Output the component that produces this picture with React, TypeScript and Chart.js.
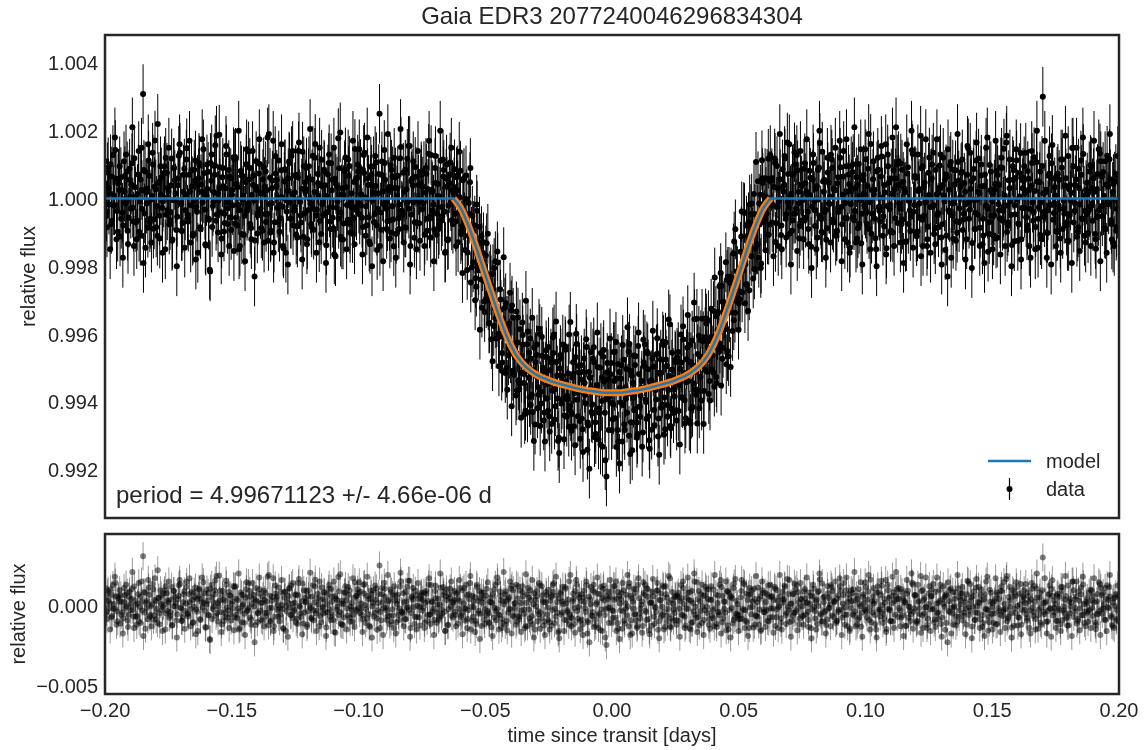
import React, { useEffect, useRef } from 'react';
import { Chart, registerables } from 'chart.js';

Chart.register(...registerables);

// ---------- text & style ----------
const FONT = "'Liberation Sans', Arial, Helvetica, sans-serif";
const TEXT_COLOR = '#262626';
const MODEL_COLOR = '#1f77b4';
const BAND_COLOR = '#ff7f0e';

const TITLE = 'Gaia EDR3 2077240046296834304';
const PERIOD_LABEL = 'period = 4.99671123 +/- 4.66e-06 d';
const X_LABEL = 'time since transit [days]';
const Y_LABEL = 'relative flux';
const LEGEND_MODEL = 'model';
const LEGEND_DATA = 'data';

// ---------- axes ----------
const T_START = -0.2;
const T_END = 0.2;
const xTicks = [-0.2, -0.15, -0.1, -0.05, 0, 0.05, 0.1, 0.15, 0.2];
const yTicksTop = [0.992, 0.994, 0.996, 0.998, 1.0, 1.002, 1.004];
const yTicksResid = [-0.005, 0];
const yRangeTop = [0.990575, 1.004823];
const yRangeResid = [-0.00553, 0.00447];

// ---------- data (flux offsets in units of 1e-5) ----------
const FLUX_UNIT = 1e-5;
const fluxErr = 0.00088;

// first set of folded observations
const fluxOffsetA = [
  45,-38,92,14,-75,128,-20,58,-98,25,63,-42,110,-14,80,-57,6,104,-68,33,
  -120,71,-9,150,308,-44,18,-86,67,-3,135,-61,27,-110,49,95,-27,3,-150,76,
  21,-64,118,-5,54,-93,39,160,-17,-72,88,12,-48,70,-130,36,-8,112,-39,60,
  -85,20,145,-33,7,79,-210,52,-22,96,-66,15,188,-41,63,-97,30,-12,84,-55,
  11,122,-74,43,-19,-140,68,8,-51,101,-28,57,-87,140,-6,35,-103,74,-31,18,
  92,-46,25,-125,61,-14,170,-70,37,4,-98,83,-24,50,-160,22,109,-59,13,-36,
  66,-82,140,-10,29,-113,47,91,-35,-2,-76,126,19,-50,72,-129,38,-17,85,-44,
  7,105,-68,24,-90,58,-27,178,-41,12,-121,80,33,-63,96,-8,-102,49,-25,61,
  -15,87,-57,128,3,-79,40,-134,70,16,-46,107,-30,250,-92,21,143,-12,-67,34,
  98,-23,-141,62,9,-58,119,-36,76,-85,27,-9,155,-47,38,-116,64,-2,-73,45,
  -31,81,17,-95,132,-54,26,-18,90,-107,43,6,-66,115,-39,58,-123,71,-8,24,
  33,-68,68,-40,82,-82,-35,-152,-2,-110,48,-113,-188,-80,-260,-130,-83,-239,-185,-304,
  -168,-280,-369,-224,-271,-376,-185,-350,-399,-268,-508,-355,-322,-499,-375,-443,-330,-508,-441,-581,
  -425,-563,-465,-366,-544,-626,-430,-529,-413,-578,-506,-667,-462,-557,-400,-605,-499,-631,-448,-547,
  -642,-472,-568,-401,-613,-522,-706,-462,-592,-540,-436,-644,-516,-612,-685,-483,-574,-399,-642,-513,
  -534,-681,-472,-605,-741,-512,-560,-634,-439,-660,-550,-711,-499,-597,-467,-632,-820,-533,-585,-485,
  -651,-538,-423,-683,-512,-602,-717,-476,-557,-632,-452,-754,-523,-588,-491,-661,-435,-614,-558,-690,
  -495,-600,-457,-713,-539,-471,-624,-565,-412,-649,-518,-608,-432,-681,-494,-565,-371,-620,-529,-584,
  -625,-478,-551,-401,-589,-515,-648,-440,-482,-664,-419,-546,-512,-355,-568,-466,-596,-421,-505,-369,
  -421,-538,-325,-463,-555,-347,-388,-452,-220,-473,-331,-386,-240,-465,-249,-302,-162,-337,-215,-294,
  -274,-112,-207,-43,-253,-110,-271,-46,-115,13,-146,-48,-175,11,113,-70,60,-44,117,-77,
  52,-19,118,-73,30,-2,-108,86,41,-60,165,-27,9,-95,73,-44,128,-14,-81,37,
  -66,104,15,-39,82,-142,56,-8,29,-115,91,-50,138,20,-33,-88,47,6,115,-71,
  24,-97,63,170,-25,11,-58,95,-130,42,-16,78,-64,31,-118,102,-5,-45,69,145,
  -40,88,-11,-104,57,26,-150,120,-36,65,3,-82,160,-22,47,-99,14,83,-58,39,
  110,-30,-75,49,18,-126,92,-7,-54,131,-19,61,-97,28,185,-63,35,-12,-140,76,
  -25,60,135,-88,12,-43,97,-115,40,-8,71,-230,26,108,-50,-14,83,-101,53,5,
  79,-62,20,-120,148,-33,51,-4,-90,112,-47,15,68,-135,37,-21,180,-70,24,-9,
  -109,43,82,-17,-58,120,-36,9,165,-81,30,-48,95,-126,61,-3,-77,134,-28,52,
  16,-94,58,-31,140,-66,22,107,-145,48,-12,300,-55,26,-102,73,-18,158,-43,9,
  64,-20,-118,91,-6,38,-80,125,-49,17,150,-37,56,-97,30,112,-61,8,-130,47,
  -35,99,-14,60,-105,27,-52,133,-22,78,-88,41,-10,116,-64,19,-140,72,-30,55,
];

const residOffsetA = [
  45,-38,92,14,-75,128,-20,58,-98,25,63,-42,110,-14,80,-57,6,104,-68,33,
  -120,71,-9,150,308,-44,18,-86,67,-3,135,-61,27,-110,49,95,-27,3,-150,76,
  21,-64,118,-5,54,-93,39,160,-17,-72,88,12,-48,70,-130,36,-8,112,-39,60,
  -85,20,145,-33,7,79,-210,52,-22,96,-66,15,188,-41,63,-97,30,-12,84,-55,
  11,122,-74,43,-19,-140,68,8,-51,101,-28,57,-87,140,-6,35,-103,74,-31,18,
  92,-46,25,-125,61,-14,170,-70,37,4,-98,83,-24,50,-160,22,109,-59,13,-36,
  66,-82,140,-10,29,-113,47,91,-35,-2,-76,126,19,-50,72,-129,38,-17,85,-44,
  7,105,-68,24,-90,58,-27,178,-41,12,-121,80,33,-63,96,-8,-102,49,-25,61,
  -15,87,-57,128,3,-79,40,-134,70,16,-46,107,-30,250,-92,21,143,-12,-67,34,
  98,-23,-141,62,9,-58,119,-36,76,-85,27,-9,155,-47,38,-116,64,-2,-73,45,
  -31,81,17,-95,132,-54,26,-18,90,-107,43,6,-66,115,-39,58,-123,71,-8,24,
  35,-60,82,-20,110,-45,12,-95,66,-30,140,-8,-70,51,-115,28,90,-52,17,-88,
  62,-35,-110,48,15,-75,130,-22,-58,87,-140,25,70,-96,40,-18,105,-63,12,-120,
  44,-88,16,120,-52,-130,70,-25,95,-67,8,-150,58,-34,125,-78,30,-100,85,-12,
  -105,66,-28,140,-70,22,-160,85,-44,10,115,-92,37,-58,-130,74,-16,160,-82,48,
  28,-118,92,-40,-175,55,8,-66,130,-90,20,-140,72,-25,105,-60,-247,40,-12,88,
  -78,35,150,-110,60,-30,-145,95,14,-62,118,-185,45,-20,76,-95,130,-50,5,-128,
  66,-40,102,-155,18,84,-70,-12,140,-98,32,-60,115,-135,50,-22,170,-80,9,-47,
  -90,55,-20,128,-62,10,-125,80,35,-150,92,-38,-8,145,-72,26,-110,60,-30,100,
  40,-85,120,-28,-130,68,15,-60,160,-105,24,-45,88,-150,52,-16,110,-78,30,-64,
  -58,90,-20,130,-95,35,-140,72,-10,105,-66,20,-118,58,150,-42,80,-30,125,-75,
  52,-19,118,-73,30,-2,-108,86,41,-60,165,-27,9,-95,73,-44,128,-14,-81,37,
  -66,104,15,-39,82,-142,56,-8,29,-115,91,-50,138,20,-33,-88,47,6,115,-71,
  24,-97,63,170,-25,11,-58,95,-130,42,-16,78,-64,31,-118,102,-5,-45,69,145,
  -40,88,-11,-104,57,26,-150,120,-36,65,3,-82,160,-22,47,-99,14,83,-58,39,
  110,-30,-75,49,18,-126,92,-7,-54,131,-19,61,-97,28,185,-63,35,-12,-140,76,
  -25,60,135,-88,12,-43,97,-115,40,-8,71,-230,26,108,-50,-14,83,-101,53,5,
  79,-62,20,-120,148,-33,51,-4,-90,112,-47,15,68,-135,37,-21,180,-70,24,-9,
  -109,43,82,-17,-58,120,-36,9,165,-81,30,-48,95,-126,61,-3,-77,134,-28,52,
  16,-94,58,-31,140,-66,22,107,-145,48,-12,300,-55,26,-102,73,-18,158,-43,9,
  64,-20,-118,91,-6,38,-80,125,-49,17,150,-37,56,-97,30,112,-61,8,-130,47,
  -35,99,-14,60,-105,27,-52,133,-22,78,-88,41,-10,116,-64,19,-140,72,-30,55,
];

// second set of folded observations (half a cadence later)
const fluxOffsetB = [
  -52,77,-18,101,-66,9,143,-37,58,-112,24,-80,66,-5,-134,88,41,-27,119,-70,
  13,-98,56,-31,84,-145,29,112,-60,7,-89,171,-22,46,-118,62,-9,95,-48,30,
  -77,38,-121,90,15,-54,126,-13,-96,70,-35,148,-68,21,83,-104,52,-25,-160,97,
  42,-11,75,-139,28,-63,105,-84,19,157,-47,-6,92,-118,36,-72,130,-29,64,-93,
  -20,116,-57,33,-150,81,-3,-108,49,-36,139,-75,10,68,-124,25,-45,102,-88,57,
  34,-69,180,-16,-95,53,-130,74,-27,112,-58,4,-147,86,-38,60,-12,125,-79,18,
  -106,63,-2,-71,138,-44,27,-120,95,-15,56,-92,161,-33,8,-66,114,-50,39,-138,
  71,-26,104,-57,-165,43,-8,89,-113,30,-74,121,-19,67,-101,15,-58,146,-35,80,
  -47,12,-84,135,-23,60,-127,94,-6,-69,37,-152,72,-41,109,-16,55,-90,26,-118,
  85,-62,31,-104,67,-18,152,-49,20,-86,117,-30,-140,58,-11,93,-72,40,-125,69,
  -14,-107,73,28,-59,128,-36,-91,46,7,-78,111,-52,84,-158,35,-21,106,-64,19,
  -45,63,-129,4,-95,54,-70,68,-159,-45,-248,-51,-133,-235,-36,-197,-132,-322,-129,-245,
  -132,-300,-243,-415,-223,-322,-413,-189,-408,-328,-484,-378,-309,-564,-369,-457,-316,-519,-441,-566,
  -537,-386,-514,-431,-636,-481,-392,-586,-473,-630,-440,-523,-619,-384,-569,-464,-655,-511,-590,-438,
  -507,-665,-456,-562,-482,-715,-501,-605,-431,-640,-539,-592,-401,-627,-529,-672,-468,-594,-494,-709,
  -650,-512,-580,-438,-670,-528,-630,-472,-704,-562,-497,-619,-456,-732,-540,-593,-485,-683,-518,-603,
  -453,-648,-531,-717,-559,-492,-609,-683,-503,-576,-429,-660,-544,-624,-465,-695,-518,-581,-732,-483,
  -593,-451,-642,-542,-682,-496,-563,-460,-702,-514,-617,-422,-587,-475,-643,-523,-678,-455,-562,-483,
  -470,-627,-502,-586,-416,-664,-474,-538,-432,-620,-493,-356,-579,-459,-619,-418,-488,-568,-354,-511,
  -577,-413,-504,-332,-437,-544,-335,-428,-258,-441,-323,-489,-231,-336,-233,-391,-127,-302,-229,-309,
  -157,-277,-40,-195,-255,-70,-136,-15,-236,-46,-136,51,-77,-192,46,-64,5,-106,52,-19,
  -71,34,-128,96,-9,57,-150,21,118,-46,72,-103,14,-64,136,-30,83,-118,41,-5,
  88,-57,19,-134,61,-24,105,-81,36,-3,164,-99,50,-40,-122,77,-16,129,-63,24,
  -110,45,-29,92,-76,140,-13,-58,70,-145,27,101,-37,63,-88,8,-132,55,-20,116,
  37,-90,161,-44,12,-117,80,-25,-68,124,-52,18,-147,95,-31,59,-100,28,210,-72,
  -15,103,-62,31,-128,74,-7,-96,142,-39,66,-111,22,-55,89,-140,47,-10,-83,121,
  58,-24,-105,84,-48,17,130,-76,9,-152,63,-35,97,-14,-119,41,-67,108,-29,75,
  -93,46,-17,155,-60,28,-131,87,-42,-4,118,-86,36,-109,71,-23,-157,99,-51,14,
  26,-118,69,-35,92,-66,147,-21,-99,54,-8,-137,83,-47,113,-74,6,-120,61,-28,
  -55,81,-140,37,-12,122,-84,50,-26,-108,96,-40,18,-175,67,-19,104,-63,33,-97,
  73,-31,115,-90,-45,60,-125,27,-6,149,-71,39,-113,88,-18,-59,131,-37,12,-102,
  -26,94,-66,20,-148,72,-35,110,-52,8,-90,126,-17,57,-121,43,-3,-84,66,
];

const residOffsetB = [
  -52,77,-18,101,-66,9,143,-37,58,-112,24,-80,66,-5,-134,88,41,-27,119,-70,
  13,-98,56,-31,84,-145,29,112,-60,7,-89,171,-22,46,-118,62,-9,95,-48,30,
  -77,38,-121,90,15,-54,126,-13,-96,70,-35,148,-68,21,83,-104,52,-25,-160,97,
  42,-11,75,-139,28,-63,105,-84,19,157,-47,-6,92,-118,36,-72,130,-29,64,-93,
  -20,116,-57,33,-150,81,-3,-108,49,-36,139,-75,10,68,-124,25,-45,102,-88,57,
  34,-69,180,-16,-95,53,-130,74,-27,112,-58,4,-147,86,-38,60,-12,125,-79,18,
  -106,63,-2,-71,138,-44,27,-120,95,-15,56,-92,161,-33,8,-66,114,-50,39,-138,
  71,-26,104,-57,-165,43,-8,89,-113,30,-74,121,-19,67,-101,15,-58,146,-35,80,
  -47,12,-84,135,-23,60,-127,94,-6,-69,37,-152,72,-41,109,-16,55,-90,26,-118,
  85,-62,31,-104,67,-18,152,-49,20,-86,117,-30,-140,58,-11,93,-72,40,-125,69,
  -14,-107,73,28,-59,128,-36,-91,46,7,-78,111,-52,84,-158,35,-21,106,-64,19,
  -40,74,-112,28,-63,96,-18,130,-85,41,-150,60,-9,-97,115,-32,48,-128,80,-22,
  105,-48,22,-136,70,-14,-92,145,-60,33,-110,8,88,-155,51,-27,124,-70,16,-101,
  -65,92,-31,58,-142,17,110,-80,36,-118,75,-5,-98,140,-43,64,-125,21,-56,98,
  30,-126,84,-20,61,-170,45,-58,118,-90,12,-40,152,-73,27,-115,90,-35,66,-148,
  -88,51,-16,127,-104,39,-62,96,-135,8,73,-48,115,-160,32,-21,88,-110,55,-30,
  120,-75,42,-145,13,80,-38,-112,67,-6,140,-92,24,-57,101,-130,46,-18,-170,78,
  -33,108,-84,15,-126,58,-10,92,-151,36,-68,125,-41,70,-100,19,-138,84,-25,53,
  64,-95,28,-58,110,-140,47,-20,83,-108,16,150,-77,39,-125,71,-5,-90,118,-46,
  -120,36,-64,98,-17,-135,62,-42,116,-80,25,-155,90,-28,60,-112,138,-50,8,-86,
  52,-83,140,-30,-104,68,-12,96,-138,40,-62,113,-25,-150,78,-40,22,-95,57,-18,
  -71,34,-128,96,-9,57,-150,21,118,-46,72,-103,14,-64,136,-30,83,-118,41,-5,
  88,-57,19,-134,61,-24,105,-81,36,-3,164,-99,50,-40,-122,77,-16,129,-63,24,
  -110,45,-29,92,-76,140,-13,-58,70,-145,27,101,-37,63,-88,8,-132,55,-20,116,
  37,-90,161,-44,12,-117,80,-25,-68,124,-52,18,-147,95,-31,59,-100,28,210,-72,
  -15,103,-62,31,-128,74,-7,-96,142,-39,66,-111,22,-55,89,-140,47,-10,-83,121,
  58,-24,-105,84,-48,17,130,-76,9,-152,63,-35,97,-14,-119,41,-67,108,-29,75,
  -93,46,-17,155,-60,28,-131,87,-42,-4,118,-86,36,-109,71,-23,-157,99,-51,14,
  26,-118,69,-35,92,-66,147,-21,-99,54,-8,-137,83,-47,113,-74,6,-120,61,-28,
  -55,81,-140,37,-12,122,-84,50,-26,-108,96,-40,18,-175,67,-19,104,-63,33,-97,
  73,-31,115,-90,-45,60,-125,27,-6,149,-71,39,-113,88,-18,-59,131,-37,12,-102,
  -26,94,-66,20,-148,72,-35,110,-52,8,-90,126,-17,57,-121,43,-3,-84,66,
];

// third set of folded observations (a quarter cadence later, noisier)
const fluxOffsetC = [
  110,-85,30,-150,65,-20,180,-120,45,95,-60,-175,20,130,-95,55,-30,210,-140,5,
  -65,140,-110,25,-190,80,-15,160,-70,-130,100,35,-85,220,-50,10,-160,75,120,-35,
  150,-40,-125,90,-5,-200,60,135,-95,20,-145,115,-55,170,-20,-110,85,-180,40,105,
  -90,175,15,-135,100,-60,-215,130,-10,70,185,-100,30,-165,90,-45,155,-75,-140,60,
  25,-155,120,-80,200,-35,-105,65,-185,145,-15,90,-120,40,-230,110,-50,175,15,-95,
  -130,80,-45,190,-100,30,-160,125,55,-70,-20,160,-140,85,-5,-195,105,-60,140,-25,
  70,-115,165,-50,-180,95,20,-135,60,205,-85,-30,120,-160,45,150,-105,-10,80,-190,
  -40,130,-90,55,150,-170,35,-60,195,-120,10,85,-150,115,-75,-25,170,-135,60,100,
  145,-20,-165,75,-110,180,-55,40,-200,95,125,-80,15,-140,70,-185,105,-30,190,-65,
  -100,65,120,-175,30,-90,205,-40,-130,85,-15,155,-195,50,110,-70,-150,140,-10,80,
  35,-140,90,-60,170,-115,20,-185,125,-45,-90,200,-25,65,-160,100,-120,45,150,-75,
  86,-140,24,138,-105,-220,60,-80,-211,-13,90,-203,-96,-300,-18,-212,-387,-111,-161,-335,
  -294,-104,-367,-256,-480,-205,-353,-156,-495,-298,-456,-173,-515,-376,-463,-278,-613,-352,-470,-333,
  -351,-547,-647,-403,-518,-302,-631,-455,-609,-352,-715,-483,-431,-579,-671,-408,-510,-717,-469,-626,
  -687,-484,-410,-652,-363,-590,-751,-472,-523,-710,-446,-582,-673,-364,-636,-517,-728,-429,-570,-656,
  -492,-748,-544,-415,-661,-797,-453,-608,-484,-695,-395,-631,-726,-527,-447,-772,-513,-588,-413,-683,
  -608,-453,-733,-488,-782,-532,-432,-666,-591,-380,-700,-509,-743,-463,-622,-706,-395,-644,-538,-417,
  -431,-650,-504,-738,-536,-390,-669,-593,-457,-756,-475,-558,-697,-425,-609,-357,-671,-505,-633,-477,
  -655,-453,-726,-484,-377,-595,-542,-344,-656,-483,-615,-307,-563,-664,-405,-526,-355,-665,-409,-477,
  -359,-596,-408,-513,-233,-527,-440,-259,-552,-305,-372,-188,-450,-231,-497,-238,-359,-91,-296,-387,
  -297,-38,-213,-309,-80,-332,-18,-170,-77,-209,108,-135,-15,-205,60,-51,-153,58,-107,128,
  60,-170,105,-25,-140,190,-80,35,125,-115,-10,160,-195,70,-45,100,-155,20,140,-65,
  -120,45,175,-90,10,-205,130,-35,-150,85,200,-60,-100,55,-175,120,-15,-130,90,30,
  150,-95,-40,120,-185,65,-120,175,20,-160,95,-55,210,-130,40,-75,145,-195,15,-30,
  -75,190,-150,25,110,-60,-200,85,-25,155,-110,40,-165,130,-20,-95,180,-140,60,100,
  40,-130,85,-190,20,160,-75,-35,200,-145,65,-100,130,-15,-170,95,-50,175,-120,10,
  -160,100,-20,-135,175,-85,30,-195,120,55,-110,145,-40,-175,85,-5,-125,190,-70,35,
  115,-45,-180,70,-10,135,-205,60,-90,165,20,-140,100,-60,-190,150,-30,-105,80,-150,
  -50,170,-115,40,-165,90,-25,-140,185,-70,115,-200,55,-20,145,-125,75,-180,30,95,
  135,-80,25,-175,105,-40,-150,200,-60,80,-120,15,170,-100,-35,125,-195,60,-15,-140,
  -95,55,-160,115,-30,185,-70,-125,40,-190,95,-15,150,-85,-155,70,180,-110,25,-45,
  80,-140,30,170,-120,-55,145,-185,65,-20,110,-160,35,190,-75,-130,50,-95,125,
];

const residOffsetC = [
  110,-85,30,-150,65,-20,180,-120,45,95,-60,-175,20,130,-95,55,-30,210,-140,5,
  -65,140,-110,25,-190,80,-15,160,-70,-130,100,35,-85,220,-50,10,-160,75,120,-35,
  150,-40,-125,90,-5,-200,60,135,-95,20,-145,115,-55,170,-20,-110,85,-180,40,105,
  -90,175,15,-135,100,-60,-215,130,-10,70,185,-100,30,-165,90,-45,155,-75,-140,60,
  25,-155,120,-80,200,-35,-105,65,-185,145,-15,90,-120,40,-230,110,-50,175,15,-95,
  -130,80,-45,190,-100,30,-160,125,55,-70,-20,160,-140,85,-5,-195,105,-60,140,-25,
  70,-115,165,-50,-180,95,20,-135,60,205,-85,-30,120,-160,45,150,-105,-10,80,-190,
  -40,130,-90,55,150,-170,35,-60,195,-120,10,85,-150,115,-75,-25,170,-135,60,100,
  145,-20,-165,75,-110,180,-55,40,-200,95,125,-80,15,-140,70,-185,105,-30,190,-65,
  -100,65,120,-175,30,-90,205,-40,-130,85,-15,155,-195,50,110,-70,-150,140,-10,80,
  35,-140,90,-60,170,-115,20,-185,125,-45,-90,200,-25,65,-160,100,-120,45,150,-75,
  90,-130,40,160,-75,-180,110,-20,-140,70,185,-95,25,-165,130,-50,-210,80,45,-115,
  -60,145,-105,20,-190,100,-35,175,-150,60,-85,210,-120,30,-45,150,-175,95,-15,130,
  120,-70,-165,85,-25,195,-130,50,-100,160,-200,35,90,-55,-145,120,20,-185,65,-90,
  -150,55,130,-110,180,-45,-205,75,25,-160,105,-30,-120,190,-80,40,-170,130,-10,-95,
  70,-185,20,150,-95,-230,115,-40,85,-125,175,-60,-155,45,125,-200,60,-15,160,-110,
  -35,120,-160,85,-210,40,140,-95,-20,190,-130,60,-175,105,-55,-140,170,-80,25,145,
  130,-90,55,-180,20,165,-115,-40,95,-205,75,-10,-150,120,-65,185,-130,35,-95,60,
  -120,80,-195,45,150,-70,-20,175,-140,30,-105,200,-60,-165,90,-35,130,-185,65,-10,
  100,-145,35,-80,190,-115,-40,130,-175,60,-20,150,-125,80,-200,45,-90,165,-55,-160,
  -85,160,-30,-140,75,-190,110,-55,25,-120,185,-70,40,-160,95,-25,-135,70,-100,130,
  60,-170,105,-25,-140,190,-80,35,125,-115,-10,160,-195,70,-45,100,-155,20,140,-65,
  -120,45,175,-90,10,-205,130,-35,-150,85,200,-60,-100,55,-175,120,-15,-130,90,30,
  150,-95,-40,120,-185,65,-120,175,20,-160,95,-55,210,-130,40,-75,145,-195,15,-30,
  -75,190,-150,25,110,-60,-200,85,-25,155,-110,40,-165,130,-20,-95,180,-140,60,100,
  40,-130,85,-190,20,160,-75,-35,200,-145,65,-100,130,-15,-170,95,-50,175,-120,10,
  -160,100,-20,-135,175,-85,30,-195,120,55,-110,145,-40,-175,85,-5,-125,190,-70,35,
  115,-45,-180,70,-10,135,-205,60,-90,165,20,-140,100,-60,-190,150,-30,-105,80,-150,
  -50,170,-115,40,-165,90,-25,-140,185,-70,115,-200,55,-20,145,-125,75,-180,30,95,
  135,-80,25,-175,105,-40,-150,200,-60,80,-120,15,170,-100,-35,125,-195,60,-15,-140,
  -95,55,-160,115,-30,185,-70,-125,40,-190,95,-15,150,-85,-155,70,180,-110,25,-45,
  80,-140,30,170,-120,-55,145,-185,65,-20,110,-160,35,190,-75,-130,50,-95,125,
];

// ---------- transit model (offsets in units of 1e-5) ----------
const modelTime = [
  -0.2, -0.0625, -0.062, -0.061, -0.06, -0.059, -0.058, -0.057, -0.056, -0.054, -0.052, -0.05,
  -0.048, -0.046, -0.044, -0.042, -0.04, -0.038, -0.036, -0.034, -0.032, -0.03, -0.028, -0.026,
  -0.024, -0.022, -0.02, -0.018, -0.016, -0.014, -0.012, -0.01, -0.008, -0.006, -0.004, -0.002, 0,
  0.002, 0.004, 0.006, 0.008, 0.01, 0.012, 0.014, 0.016, 0.018, 0.02, 0.022, 0.024, 0.026, 0.028,
  0.03, 0.032, 0.034, 0.036, 0.038, 0.04, 0.042, 0.044, 0.046, 0.048, 0.05, 0.052, 0.054, 0.056,
  0.057, 0.058, 0.059, 0.06, 0.061, 0.062, 0.0625, 0.2,
];
const modelOffset = [
  0, 0, -5, -14, -25, -38, -55, -73, -92, -135, -180, -225,
  -270, -315, -358, -398, -432, -460, -481, -497, -509, -519, -527, -533,
  -539, -544, -548, -552, -556, -560, -563, -566, -568, -570, -572, -573, -573,
  -573, -572, -570, -568, -566, -563, -560, -556, -552, -548, -544, -539, -533, -527,
  -519, -509, -497, -481, -460, -432, -398, -358, -315, -270, -225, -180, -135, -92,
  -73, -55, -38, -25, -14, -5, 0, 0,
];
const BAND_HALF_WIDTH = 0.0625;

// cadence grids of the phase-folded observations
const CADENCE = (T_END - T_START) / (fluxOffsetA.length - 1);
const timesA = fluxOffsetA.map((_, i) => T_START + i * CADENCE);
const timesB = fluxOffsetB.map((_, i) => T_START + (i + 0.5) * CADENCE);
const timesC = fluxOffsetC.map((_, i) => T_START + (i + 0.25) * CADENCE);

const fmtMinus = (s: string) => s.replace('-', '\u2212');

function frameAndErrorsPlugin(opts: { err: number; color: string; width: number; separate: boolean; dataIndex: number }) {
  return {
    id: 'errAndFrame',
    beforeDatasetsDraw(chart: any) {
      const { ctx, chartArea: ca } = chart;
      const xs = chart.scales.x;
      const ys = chart.scales.y;
      const pts = chart.data.datasets[opts.dataIndex].data as { x: number; y: number }[];
      ctx.save();
      ctx.beginPath();
      ctx.rect(ca.left, ca.top, ca.right - ca.left, ca.bottom - ca.top);
      ctx.clip();
      ctx.strokeStyle = opts.color;
      ctx.lineWidth = opts.width;
      if (!opts.separate) ctx.beginPath();
      for (const p of pts) {
        const px = xs.getPixelForValue(p.x);
        const y1 = ys.getPixelForValue(p.y - opts.err);
        const y2 = ys.getPixelForValue(p.y + opts.err);
        if (opts.separate) ctx.beginPath();
        ctx.moveTo(px, y1);
        ctx.lineTo(px, y2);
        if (opts.separate) ctx.stroke();
      }
      if (!opts.separate) ctx.stroke();
      ctx.restore();
    },
    afterDraw(chart: any) {
      const { ctx, chartArea: ca } = chart;
      ctx.save();
      ctx.strokeStyle = TEXT_COLOR;
      ctx.lineWidth = 2.5;
      ctx.strokeRect(ca.left, ca.top, ca.right - ca.left, ca.bottom - ca.top);
      ctx.restore();
    },
  };
}

const topTextPlugin = {
  id: 'topText',
  afterDraw(chart: any) {
    const { ctx, chartArea: ca } = chart;
    ctx.save();
    ctx.fillStyle = TEXT_COLOR;
    ctx.font = `24px ${FONT}`;
    ctx.textAlign = 'center';
    ctx.textBaseline = 'middle';
    ctx.fillText(TITLE, (ca.left + ca.right) / 2, 17);

    ctx.save();
    ctx.font = `20px ${FONT}`;
    ctx.translate(35, (ca.top + ca.bottom) / 2);
    ctx.rotate(-Math.PI / 2);
    ctx.textAlign = 'center';
    ctx.textBaseline = 'alphabetic';
    ctx.fillText(Y_LABEL, 0, 0);
    ctx.restore();

    ctx.font = `24px ${FONT}`;
    ctx.textAlign = 'left';
    ctx.textBaseline = 'alphabetic';
    ctx.fillText(PERIOD_LABEL, 116, 503);

    // legend
    ctx.strokeStyle = MODEL_COLOR;
    ctx.lineWidth = 2.5;
    ctx.beginPath();
    ctx.moveTo(988, 461);
    ctx.lineTo(1031, 461);
    ctx.stroke();
    ctx.strokeStyle = '#000';
    ctx.lineWidth = 1.2;
    ctx.beginPath();
    ctx.moveTo(1009.5, 478);
    ctx.lineTo(1009.5, 500);
    ctx.stroke();
    ctx.fillStyle = '#000';
    ctx.beginPath();
    ctx.arc(1009.5, 489, 3, 0, Math.PI * 2);
    ctx.fill();
    ctx.fillStyle = TEXT_COLOR;
    ctx.font = `20px ${FONT}`;
    ctx.textBaseline = 'middle';
    ctx.fillText(LEGEND_MODEL, 1046, 462);
    ctx.fillText(LEGEND_DATA, 1046, 490);
    ctx.restore();
  },
};

const bottomTextPlugin = {
  id: 'bottomText',
  afterDraw(chart: any) {
    const { ctx, chartArea: ca } = chart;
    ctx.save();
    ctx.fillStyle = TEXT_COLOR;
    ctx.font = `20px ${FONT}`;
    ctx.save();
    ctx.translate(25, (ca.top + ca.bottom) / 2);
    ctx.rotate(-Math.PI / 2);
    ctx.textAlign = 'center';
    ctx.textBaseline = 'alphabetic';
    ctx.fillText(Y_LABEL, 0, 0);
    ctx.restore();
    ctx.textAlign = 'center';
    ctx.textBaseline = 'middle';
    ctx.fillText(X_LABEL, (ca.left + ca.right) / 2, 211);
    ctx.restore();
  },
};

const tickFont = { family: FONT, size: 20 };
const noPad = (s: any) => {
  s.paddingTop = 0;
  s.paddingBottom = 0;
};

export default function App() {
  const topRef = useRef<HTMLCanvasElement>(null);
  const botRef = useRef<HTMLCanvasElement>(null);

  useEffect(() => {
    const modelPts = modelTime.map((t, i) => ({ x: t, y: 1 + modelOffset[i] * FLUX_UNIT }));
    const bandPts = modelPts.filter((p) => Math.abs(p.x) <= BAND_HALF_WIDTH);
    const dataPts = [
      ...timesA.map((t, i) => ({ x: t, y: 1 + fluxOffsetA[i] * FLUX_UNIT })),
      ...timesB.map((t, i) => ({ x: t, y: 1 + fluxOffsetB[i] * FLUX_UNIT })),
      ...timesC.map((t, i) => ({ x: t, y: 1 + fluxOffsetC[i] * FLUX_UNIT })),
    ];
    const residPts = [
      ...timesA.map((t, i) => ({ x: t, y: residOffsetA[i] * FLUX_UNIT })),
      ...timesB.map((t, i) => ({ x: t, y: residOffsetB[i] * FLUX_UNIT })),
      ...timesC.map((t, i) => ({ x: t, y: residOffsetC[i] * FLUX_UNIT })),
    ];

    const top = new Chart(topRef.current as HTMLCanvasElement, {
      type: 'scatter',
      data: {
        datasets: [
          { type: 'line', data: modelPts, borderColor: MODEL_COLOR, borderWidth: 2.5, pointRadius: 0, fill: false, tension: 0 } as any,
          { type: 'line', data: bandPts, borderColor: BAND_COLOR, borderWidth: 7, pointRadius: 0, fill: false, tension: 0 } as any,
          { type: 'scatter', data: dataPts, pointRadius: 3, pointBackgroundColor: '#000', pointBorderWidth: 0, backgroundColor: '#000' } as any,
        ],
      },
      options: {
        animation: false,
        responsive: false,
        maintainAspectRatio: false,
        devicePixelRatio: 1,
        events: [],
        layout: { padding: { top: 35, bottom: 7, left: 0, right: 26 } },
        plugins: { legend: { display: false }, tooltip: { enabled: false } },
        scales: {
          x: { type: 'linear', min: T_START, max: T_END, display: false },
          y: {
            type: 'linear',
            min: yRangeTop[0],
            max: yRangeTop[1],
            grid: { display: false, drawTicks: false },
            border: { display: false },
            ticks: { font: tickFont, color: TEXT_COLOR, padding: 7, labelOffset: 2, callback: (v: any) => fmtMinus(Number(v).toFixed(3)) },
            afterFit: (s: any) => { s.width = 105; noPad(s); },
            afterBuildTicks: (s: any) => { s.ticks = yTicksTop.map((v) => ({ value: v })); },
          },
        },
      } as any,
      plugins: [frameAndErrorsPlugin({ err: fluxErr, color: '#000', width: 1, separate: false, dataIndex: 2 }), topTextPlugin],
    });

    const bottom = new Chart(botRef.current as HTMLCanvasElement, {
      type: 'scatter',
      data: {
        datasets: [
          { type: 'scatter', data: residPts, pointRadius: 3, pointBackgroundColor: 'rgba(0,0,0,0.5)', backgroundColor: 'rgba(0,0,0,0.5)', pointBorderWidth: 0 } as any,
        ],
      },
      options: {
        animation: false,
        responsive: false,
        maintainAspectRatio: false,
        devicePixelRatio: 1,
        events: [],
        layout: { padding: { top: 9, bottom: 0, left: 0, right: 26 } },
        plugins: { legend: { display: false }, tooltip: { enabled: false } },
        scales: {
          x: {
            type: 'linear',
            min: T_START,
            max: T_END,
            grid: { display: false, drawTicks: false },
            border: { display: false },
            ticks: { font: tickFont, color: TEXT_COLOR, padding: 5, maxRotation: 0, callback: (v: any) => fmtMinus(Number(v).toFixed(2)) },
            afterFit: (s: any) => { s.height = 56; s.paddingLeft = 0; s.paddingRight = 0; },
            afterBuildTicks: (s: any) => { s.ticks = xTicks.map((v) => ({ value: v })); },
          },
          y: {
            type: 'linear',
            min: yRangeResid[0],
            max: yRangeResid[1],
            grid: { display: false, drawTicks: false },
            border: { display: false },
            ticks: { font: tickFont, color: TEXT_COLOR, padding: 7, labelOffset: 2, callback: (v: any) => fmtMinus(Number(v).toFixed(3)) },
            afterFit: (s: any) => { s.width = 105; noPad(s); },
            afterBuildTicks: (s: any) => { s.ticks = yTicksResid.map((v) => ({ value: v })); },
          },
        },
      } as any,
      plugins: [frameAndErrorsPlugin({ err: fluxErr, color: 'rgba(0,0,0,0.4)', width: 1, separate: true, dataIndex: 0 }), bottomTextPlugin],
    });

    return () => {
      top.destroy();
      bottom.destroy();
    };
  }, []);

  return (
    <div style={{ position: 'fixed', left: 0, top: 0, width: 1145, height: 750, background: '#ffffff' }}>
      <canvas ref={topRef} width={1145} height={525} style={{ position: 'absolute', left: 0, top: 0, width: 1145, height: 525 }} />
      <canvas ref={botRef} width={1145} height={225} style={{ position: 'absolute', left: 0, top: 525, width: 1145, height: 225 }} />
    </div>
  );
}
